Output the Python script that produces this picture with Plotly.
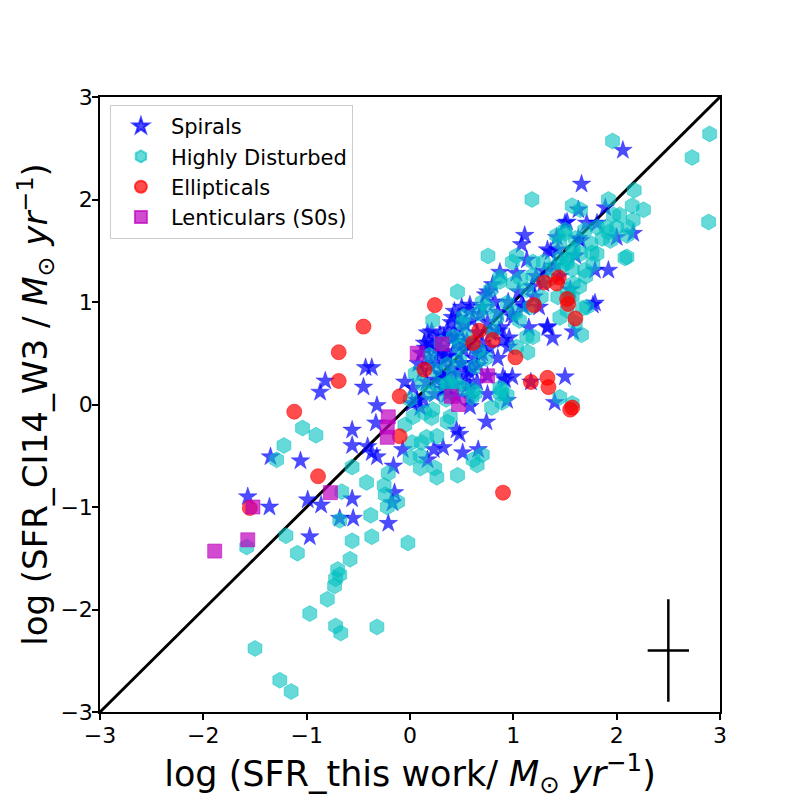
import plotly.graph_objects as go

# Spirals
spiral_x = [-1.57,-1.36,-1.35,-1.06,-0.99,-0.97,-0.87,-0.82,-0.86,-0.56,-0.55,-0.68,-0.21,-0.15,-0.17,
            -0.43,-0.37,-0.45,-0.32,-0.33,-0.56,-0.56,-0.41,-0.37,-0.32,-0.07,-0.16,-0.05,0.07,0.10,0.02,
            0.17,0.23,0.32,0.51,0.66,0.45,0.48,0.74,0.58,0.36,0.94,0.99,0.90,1.33,1.38,1.58,1.50,1.40,
            1.79,1.77,1.17,0.75,
            2.06,1.66,1.63,1.89,1.11,1.08,1.52,1.71,1.81,2.16,2.00,1.79,0.43,1.33,1.43,1.63,0.87,0.755,
            0.58,1.13,
            0.17,0.21,0.36,0.58,0.52,0.32,0.55,0.65,0.03,0.32,0.75,0.58,0.26,0.19,0.73,0.80,1.03,0.90,
            0.95,1.29,0.92,0.58,0.40,0.45,0.30,0.65,0.70,0.75,0.85,0.95,1.05,1.10,1.20,0.15,0.50,1.40,
            1.45,1.60,0.68,0.40,0.62,0.85,0.48,0.27,0.12,1.00,1.15,1.25,1.36,1.42,1.65,1.55,1.50,1.92,1.33,
            0.22,0.28,0.35,0.42,0.50,0.38,0.44,0.55,0.60,0.33,0.25,0.47,0.53,0.62,0.70,0.40,0.30,0.18,
            0.36,0.45,0.57,0.66,0.78,0.88,0.98,1.08,1.18,0.24,0.13,0.08,0.70,0.82,0.48,0.55,1.22,1.30,
            0.14,0.20,0.26,0.31,0.37,0.43,0.49,0.11,0.16,0.29,0.34,0.41,0.52,0.60,0.68,0.77,0.86,0.96]
spiral_y = [-0.90,-1.00,-0.51,-0.55,-0.93,-1.29,0.12,0.23,-0.98,-0.92,-1.11,-1.11,-1.16,-0.86,-0.96,
            0.36,0.36,0.17,-0.01,-0.18,-0.25,-0.40,-0.41,-0.47,-0.51,-0.44,-0.60,0.22,0.04,-0.03,0.01,
            -0.54,-0.44,-0.42,-0.47,-0.44,-0.25,-0.29,-0.17,-0.02,0.17,0.04,0.27,0.27,0.75,0.65,0.71,0.27,0.02,
            0.99,0.97,0.22,0.28,
            2.48,2.15,1.90,1.92,1.65,1.56,1.78,1.77,1.77,1.67,1.63,1.31,0.91,1.51,1.51,1.62,1.29,1.10,
            0.97,1.41,
            0.70,0.71,0.73,0.92,0.53,0.43,0.27,0.22,0.16,0.15,0.10,0.06,0.24,0.45,1.07,1.17,1.28,0.63,
            0.56,1.18,0.24,0.14,0.35,0.60,0.55,0.70,0.60,0.80,0.90,1.00,1.10,0.95,1.05,0.55,0.95,1.35,
            1.25,1.45,0.88,0.80,0.45,0.45,0.72,0.62,0.33,0.85,0.75,0.95,1.49,1.63,1.60,1.12,1.77,1.31,0.76,
            0.58,0.50,0.46,0.52,0.40,0.28,0.20,0.62,0.35,0.66,0.40,0.30,0.78,0.55,0.50,0.65,0.30,0.60,
            0.10,0.08,0.32,0.38,0.70,0.75,0.88,0.98,1.15,0.10,0.05,0.40,0.95,1.00,0.84,0.18,1.25,1.30,
            0.60,0.38,0.55,0.28,0.47,0.66,0.40,0.50,0.22,0.68,0.15,0.85,0.60,0.82,0.48,0.55,0.72,0.65]

# Highly Disturbed
hd_x = [-1.50,-1.26,-1.15,-0.97,-0.80,-0.72,-0.67,-0.32,
        -1.58,-1.20,-1.09,-0.56,-0.37,-0.02,-0.58,-0.70,-0.68,-0.72,-0.73,
        -1.04,-0.91,-1.22,-1.29,
        -0.66,-0.56,-0.42,-0.25,-0.24,-0.22,-0.12,-0.38,-0.21,-0.68,
        0.02,0.10,-0.05,0.00,0.10,0.24,0.26,0.46,0.16,0.11,0.61,0.65,0.21,0.14,0.36,0.79,0.87,0.63,
        0.19,0.22,0.03,0.39,0.26,0.70,
        0.46,0.22,0.70,0.87,1.00,1.13,0.84,1.06,1.13,1.19,1.14,0.51,0.55,0.48,0.66,0.73,0.63,0.48,
        0.36,0.42,0.37,0.51,0.87,0.94,0.19,0.24,0.66,0.75,0.78,0.94,1.02,1.03,1.16,0.46,0.61,0.60,
        0.27,0.36,0.89,0.89,1.45,1.57,0.30,0.52,0.42,0.80,0.35,0.05,0.12,0.00,
        1.66,1.67,1.52,1.54,1.45,1.60,
        1.96,2.90,2.73,2.89,2.17,2.15,2.26,1.92,2.10,1.18,1.57,1.65,0.755,
        1.97,2.03,2.16,2.11,2.10,1.81,1.77,1.65,1.45,1.50,1.42,1.92,1.94,1.69,1.58,1.52,1.48,1.57,
        1.29,1.19,1.03,0.99,0.87,1.07,1.52,1.58,1.71,2.08,1.69,1.81,1.90,2.00,1.50,1.57,1.76,1.52,
        1.19,1.33,1.27,1.43,1.57,1.64,1.70,1.38,1.45,1.60,1.75,1.86]
hd_y = [-2.38,-2.69,-2.80,-2.04,-1.90,-2.16,-2.23,-2.17,
        -1.39,-1.28,-1.45,-1.33,-1.29,-1.35,-1.51,-1.61,-1.66,-1.70,-1.77,
        -0.23,-0.30,-0.40,-0.54,
        -0.85,-0.61,-0.76,-0.79,-0.88,-1.00,-0.95,-1.08,-0.67,-1.13,
        -0.37,-0.50,-0.20,-0.52,-0.62,-0.62,-0.71,-0.69,-0.32,-0.37,-0.54,-0.59,-0.13,-0.08,-0.17,-0.03,0.11,0.11,
        0.11,-0.05,-0.12,-0.12,-0.31,-0.49,
        1.10,0.82,1.00,1.24,1.18,1.12,0.85,0.82,0.66,0.66,0.51,0.79,0.66,0.56,0.53,0.45,0.37,0.43,
        0.39,0.27,0.21,0.16,0.16,0.09,0.48,0.34,0.89,0.95,1.12,0.99,0.89,0.56,0.95,0.19,0.14,0.07,
        0.19,0.19,0.14,0.02,0.07,0.01,0.60,0.86,0.66,0.72,0.05,0.30,0.20,0.05,
        0.68,0.94,0.92,1.05,0.85,0.80,
        2.57,2.64,2.41,1.78,2.09,1.94,1.90,2.00,1.44,2.00,1.94,1.90,1.45,
        1.85,1.85,1.80,1.73,1.65,1.47,1.37,1.47,1.43,1.70,1.65,1.68,1.60,1.31,1.51,1.41,1.36,1.32,
        1.39,1.39,1.45,1.39,1.20,1.23,1.12,1.18,0.95,1.43,1.70,1.73,1.73,1.73,1.67,1.48,1.48,1.38,
        1.26,1.21,1.05,1.05,1.05,1.15,1.25,1.33,1.58,1.62,1.57,1.62]

# Ellipticals
ell_x = [-1.55,-1.12,-0.89,-0.69,-0.69,-0.45,-0.10,-0.10,0.24,0.14,0.67,0.61,0.80,1.02,1.20,1.52,1.53,
         1.60,1.17,1.33,1.34,1.57,1.55,0.90,1.30,1.44,1.42]
ell_y = [-1.01,-0.07,-0.70,0.23,0.51,0.76,0.08,-0.31,0.97,0.34,0.72,0.60,0.63,0.46,0.97,1.03,0.98,
         0.84,0.22,0.26,0.17,-0.03,-0.05,-0.86,1.19,1.24,1.18]

# Lenticulars (S0s)
len_x = [-1.89,-1.57,-1.52,-0.77,-0.21,-0.22,-0.22,0.07,0.31,0.75,0.40,0.47]
len_y = [-1.43,-1.32,-1.00,-0.86,-0.12,-0.22,-0.32,0.50,0.59,0.28,0.08,0.00]

# one-to-one line and typical error cross
line_x = [-3, 3]
line_y = [-3, 3]
err_x, err_y = [2.5], [-2.4]
err_dx, err_dy = [0.2], [0.5]

FONT = "DejaVu Sans"
fig = go.Figure()

fig.add_trace(go.Scatter(x=line_x, y=line_y, mode="lines", line=dict(color="black", width=3),
                         showlegend=False, hoverinfo="skip"))
fig.add_trace(go.Scatter(x=spiral_x, y=spiral_y, mode="markers", name="Spirals",
                         marker=dict(symbol="star", size=14, color="rgba(0,0,255,0.7)",
                                     line=dict(width=0.5, color="rgba(0,0,255,0.7)"))))
fig.add_trace(go.Scatter(x=hd_x, y=hd_y, mode="markers", name="Highly Disturbed",
                         marker=dict(symbol="hexagon", size=16, color="rgba(0,191,191,0.6)",
                                     line=dict(width=0.8, color="rgba(0,191,191,0.6)"))))
fig.add_trace(go.Scatter(x=ell_x, y=ell_y, mode="markers", name="Ellipticals",
                         marker=dict(symbol="circle", size=15, color="rgba(255,0,0,0.7)",
                                     line=dict(width=0.8, color="rgba(255,0,0,0.7)"))))
fig.add_trace(go.Scatter(x=len_x, y=len_y, mode="markers", name="Lenticulars (S0s)",
                         marker=dict(symbol="square", size=14, color="rgba(191,0,191,0.7)",
                                     line=dict(width=0.8, color="rgba(191,0,191,0.7)"))))
fig.add_trace(go.Scatter(x=err_x, y=err_y, mode="markers", marker=dict(size=0.1, color="black"),
                         error_x=dict(type="data", array=err_dx, color="black", thickness=2.5, width=0),
                         error_y=dict(type="data", array=err_dy, color="black", thickness=2.5, width=0),
                         showlegend=False, hoverinfo="skip"))

axis_common = dict(range=[-3, 3], dtick=1, ticks="outside", ticklen=6, tickwidth=1.5,
                   tickcolor="black", showline=True, linecolor="black", linewidth=1.5,
                   mirror=True, showgrid=False, zeroline=False, automargin=False,
                   tickfont=dict(family=FONT, size=22, color="black"))

fig.update_layout(
    width=800, height=800,
    margin=dict(l=92, r=88, t=89, b=96),
    paper_bgcolor="white", plot_bgcolor="white",
    font=dict(family=FONT, color="black"),
    xaxis=dict(**axis_common, ticklabelstandoff=-3,
               title=dict(text="log (SFR_this work/ <i>M</i><sub>⊙</sub> <i>yr</i><sup>−1</sup>)",
                          font=dict(family=FONT, size=35), standoff=2)),
    yaxis=dict(**axis_common, ticklabelstandoff=-5,
               title=dict(text="log (SFR_CI14_W3 / <i>M</i><sub>⊙</sub> <i>yr</i><sup>−1</sup>)",
                          font=dict(family=FONT, size=34), standoff=0)),
    legend=dict(x=0.016, y=0.987, xanchor="left", yanchor="top",
                bgcolor="white", bordercolor="#cccccc", borderwidth=1,
                font=dict(family=FONT, size=21, color="black"),
                itemsizing="constant", itemwidth=50),
    showlegend=True,
)

fig.write_html("out.html")
